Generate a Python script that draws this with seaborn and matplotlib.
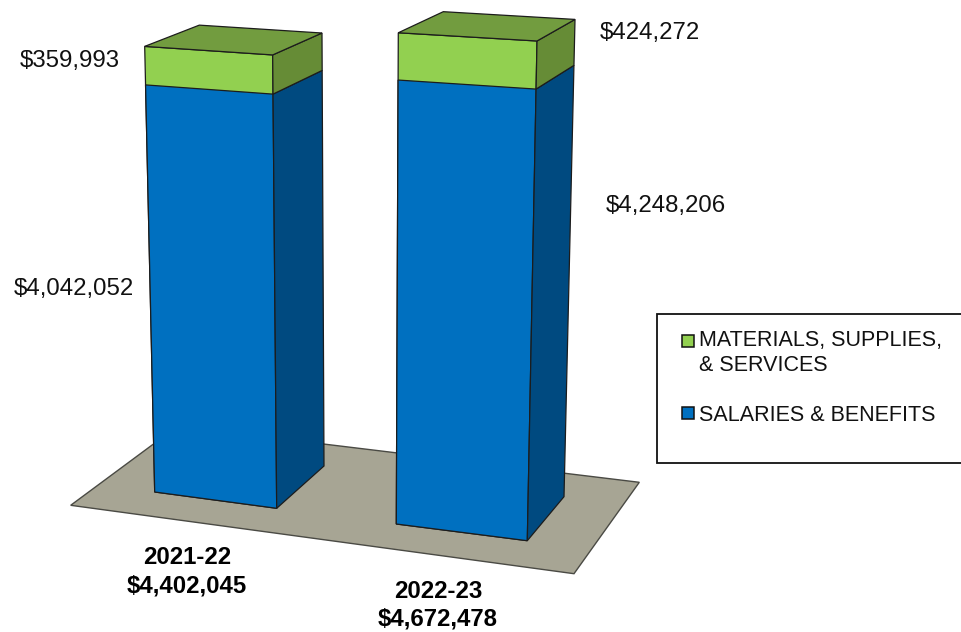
import numpy as np
import pandas as pd
import matplotlib
matplotlib.use("Agg")
import matplotlib.pyplot as plt
from matplotlib.lines import Line2D
from matplotlib.patches import Polygon, Rectangle
from matplotlib.transforms import Affine2D, Transform
import seaborn as sns

# Budget figures
years = ["2021-22", "2022-23"]
salaries = [4042052, 4248206]
materials = [359993, 424272]
series_names = ["MATERIALS, SUPPLIES,\n& SERVICES", "SALARIES & BENEFITS"]

# Colours
GREEN, GREEN_SIDE, GREEN_TOP = "#92D050", "#668C36", "#729C3F"
BLUE, BLUE_SIDE = "#0070C0", "#004A80"
FLOOR = "#A7A594"
EDGE = "#1C1C1C"

WIDTH, HEIGHT = 962, 632

# Oblique view of the columns, in canvas pixels measured from the top left.
# Corners run front-left, front-right, back-right, back-left.
GROUND = [
    np.array([[154.7, 492.0], [276.7, 508.3], [324.0, 466.0], [202.0, 449.7]]),
    np.array([[396.3, 524.0], [527.3, 540.7], [564.0, 496.7], [433.0, 480.0]]),
]
# Pixels gained per million dollars at each corner
RISE = [
    np.array([[-2.14, -95.3], [-0.86, -96.96], [-0.43, -92.6], [-0.58, -90.8]]),
    np.array([[0.40, -98.6], [1.95, -100.3], [2.21, -95.8], [2.07, -94.0]]),
]
FORESHORTEN = -0.0133  # per million dollars
FLOOR_CORNERS = [(70.7, 505.3), (177.4, 426.3), (639.3, 482.3), (574.0, 573.7)]


def lift(dollars):
    m = np.asarray(dollars, dtype=float) / 1e6
    return m / (1 + FORESHORTEN * m)


def corner(bar, idx, dollars):
    return GROUND[bar][idx] + RISE[bar][idx] * lift(dollars)


class FrontFace(Transform):
    """Maps (category x, dollars) on a column's front face to canvas pixels."""

    input_dims = output_dims = 2
    is_affine = False

    def __init__(self, bar, left, width):
        super().__init__()
        self.bar, self.left, self.width = bar, left, width

    def transform_non_affine(self, values):
        values = np.asarray(values, dtype=float)
        u = ((values[:, 0] - self.left) / self.width)[:, None]
        h = lift(values[:, 1])[:, None]
        g, r = GROUND[self.bar], RISE[self.bar]
        return (g[0] + r[0] * h) * (1 - u) + (g[1] + r[1] * h) * u


sns.set_theme(style="white")
plt.rcParams["font.family"] = ["Liberation Sans", "DejaVu Sans"]

fig = plt.figure(figsize=(WIDTH / 100, HEIGHT / 100), dpi=100, facecolor="white")
ax = fig.add_axes([0, 0, 1, 1])
canvas = Affine2D().scale(1, -1).translate(0, HEIGHT)

totals = [s + m for s, m in zip(salaries, materials)]
frame = pd.DataFrame({"year": years, "salaries": salaries, "total": totals})

# Stacked front faces: full totals in green with salaries laid over them
sns.barplot(data=frame, x="year", y="total", color=GREEN, saturation=1,
            edgecolor=EDGE, linewidth=0.9, width=0.8, ax=ax, zorder=3)
sns.barplot(data=frame, x="year", y="salaries", color=BLUE, saturation=1,
            edgecolor=EDGE, linewidth=0.9, width=0.8, ax=ax, zorder=4)
ax.set_axis_off()

for i, patch in enumerate(ax.patches):
    bar = i % len(years)
    patch.set_transform(FrontFace(bar, patch.get_x(), patch.get_width()) + canvas)
    patch.set_clip_on(False)

ax.add_patch(Polygon(FLOOR_CORNERS, closed=True, facecolor=FLOOR, edgecolor="#4A4A44",
                     linewidth=1.0, transform=canvas, clip_on=False, zorder=1))


def face(points, color):
    ax.add_patch(Polygon(np.array(points), closed=True, facecolor=color, edgecolor=EDGE,
                         linewidth=0.9, transform=canvas, clip_on=False, zorder=5))


for bar in range(len(years)):
    low, high = salaries[bar], totals[bar]
    face([corner(bar, 1, 0), corner(bar, 2, 0), corner(bar, 2, low), corner(bar, 1, low)],
         BLUE_SIDE)
    face([corner(bar, 1, low), corner(bar, 2, low), corner(bar, 2, high), corner(bar, 1, high)],
         GREEN_SIDE)
    face([corner(bar, c, high) for c in range(4)], GREEN_TOP)

TEXT = dict(transform=canvas, color="#111111", fontsize=17.3, va="center", clip_on=False, zorder=8)
ax.text(119.5, 60.5, f"${materials[0]:,}", ha="right", **TEXT)
ax.text(699.5, 32.5, f"${materials[1]:,}", ha="right", **TEXT)
ax.text(134.5, 289, f"${salaries[0]:,}", ha="right", **TEXT)
ax.text(725.5, 206, f"${salaries[1]:,}", ha="right", **TEXT)

BOLD = dict(transform=canvas, color="black", fontsize=17.3, fontweight="bold",
            ha="center", va="center", clip_on=False, zorder=8)
ax.text(187, 558, years[0], **BOLD)
ax.text(187, 586, f"${totals[0]:,}", **BOLD)
ax.text(438, 592, years[1], **BOLD)
ax.text(438, 619, f"${totals[1]:,}", **BOLD)

# Legend box runs off the right side of the canvas
ax.add_patch(Rectangle((657, 314), 320, 149, facecolor="white", edgecolor="#111111",
                       linewidth=1.3, transform=canvas, clip_on=False, zorder=6))
handles = [
    Line2D([], [], linestyle="none", marker="s", markersize=8.6, markerfacecolor=c,
           markeredgecolor="#111111", markeredgewidth=1.1)
    for c in (GREEN, BLUE)
]
legend = ax.legend(handles, series_names, loc="upper left", frameon=False, fontsize=15.5,
                   bbox_to_anchor=(671, 321), bbox_transform=canvas, borderpad=0.4,
                   borderaxespad=0, handlelength=0.8, handletextpad=0.1, labelspacing=1.35,
                   labelcolor="#111111")
legend.set_zorder(9)
for text in legend.get_texts():
    text.set_linespacing(1.27)

# The swatch of the two-line entry sits level with its first line
first_swatch = legend.legend_handles[0]
first_swatch.set_ydata(np.asarray(first_swatch.get_ydata()) + 9.0)

fig.savefig("out.png", dpi=100, facecolor="white")
